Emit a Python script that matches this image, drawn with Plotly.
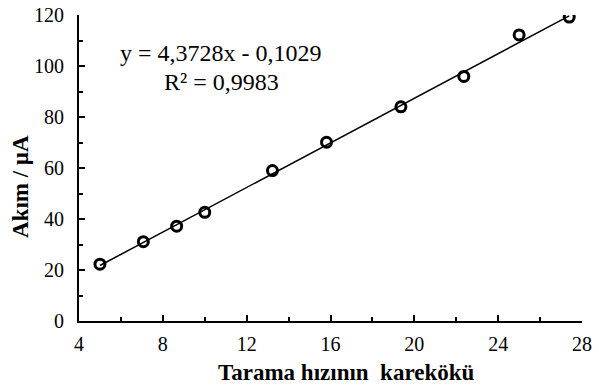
import plotly.graph_objects as go

x_vals = [5.0, 7.07, 8.66, 10.0, 13.23, 15.81, 19.36, 22.36, 25.0, 27.39]
y_vals = [22.3, 31.1, 37.2, 42.6, 59.0, 70.1, 84.0, 95.9, 112.2, 119.2]
slope = 4.3728
intercept = -0.1029
x_ticks = [4, 8, 12, 16, 20, 24, 28]
y_ticks = [0, 20, 40, 60, 80, 100, 120]

font_family = "Liberation Serif, Times New Roman, serif"

fit_x = [min(x_vals), max(x_vals)]
fit_y = [slope * v + intercept for v in fit_x]

L, R, T, B = 79, 17, 15, 64
W, H = 599, 385
pw = W - L - R
ph = H - T - B


def px_to_paper(px, py):
    return (px - L) / pw, 1 - (py - T) / ph


fig = go.Figure()
fig.add_trace(go.Scatter(x=fit_x, y=fit_y, mode="lines",
                         line=dict(color="black", width=1.5), showlegend=False))
fig.add_trace(go.Scatter(x=x_vals, y=y_vals, mode="markers",
                         marker=dict(symbol="circle-open", size=10, color="black",
                                     line=dict(width=3, color="black")),
                         showlegend=False))

fig.update_layout(
    template="none",
    width=W, height=H,
    margin=dict(l=L, r=R, t=T, b=B, autoexpand=False),
    paper_bgcolor="white", plot_bgcolor="white",
    font=dict(family=font_family, color="black", size=20),
    xaxis=dict(range=[4, 28], tickvals=x_ticks, ticks="inside", ticklen=6, tickwidth=2,
               tickcolor="black", showline=True, linecolor="black", linewidth=2,
               showgrid=False, zeroline=False, automargin=False, ticklabelstandoff=4,
               minor=dict(ticks="inside", ticklen=4, tickwidth=2, tickcolor="black", dtick=2, tick0=0),
               tickfont=dict(size=20)),
    yaxis=dict(range=[0, 120], tickvals=y_ticks, ticks="inside", ticklen=6, tickwidth=2,
               tickcolor="black", showline=True, linecolor="black", linewidth=2,
               showgrid=False, zeroline=False, automargin=False, ticklabelstandoff=9,
               minor=dict(ticks="inside", ticklen=4, tickwidth=2, tickcolor="black", dtick=10, tick0=0),
               tickfont=dict(size=20)),
)

ax1, ay1 = px_to_paper(221, 53)
ax2, ay2 = px_to_paper(221, 82)
fig.add_annotation(x=ax1, y=ay1, xref="paper", yref="paper", text="y = 4,3728x - 0,1029",
                   xanchor="center", yanchor="middle",
                   showarrow=False, font=dict(family=font_family, size=24, color="black"))
fig.add_annotation(x=ax2, y=ay2, xref="paper", yref="paper", text="R² = 0,9983",
                   xanchor="center", yanchor="middle",
                   showarrow=False, font=dict(family=font_family, size=24, color="black"))

tx, ty = px_to_paper(346, 372)
fig.add_annotation(x=tx, y=ty, xref="paper", yref="paper",
                   text="<b>Tarama hızının  karekökü</b>",
                   xanchor="center", yanchor="middle",
                   showarrow=False, font=dict(family=font_family, size=23, color="black"))
yx, yy = px_to_paper(20, 187)
fig.add_annotation(x=yx, y=yy, xref="paper", yref="paper",
                   text="<b>Akım / µA</b>", textangle=-90,
                   xanchor="center", yanchor="middle",
                   showarrow=False, font=dict(family=font_family, size=23, color="black"))

fig.write_html("out.html")
